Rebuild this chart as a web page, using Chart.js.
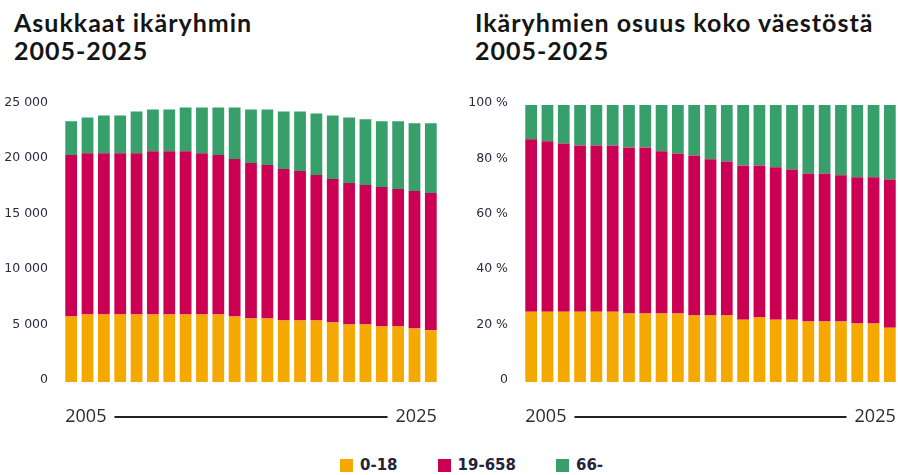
<!DOCTYPE html>
<html lang="fi">
<head>
    <meta charset="UTF-8">
    <title>Asukkaat ikäryhmin 2005-2025</title>
    <script src="https://cdn.jsdelivr.net/npm/chart.js"></script>
    <style>
        body {
            margin: 0;
            width: 898px;
            height: 475px;
            background: #fff;
            position: relative;
            overflow: hidden;
            font-family: Lato, sans-serif;
        }

        .title {
            position: absolute;
            top: 8px;
            font-weight: bold;
            font-size: 25px;
            line-height: 28px;
            letter-spacing: 1px;
            color: #151515;
            white-space: nowrap;
        }

        .chart-box {
            position: absolute;
            top: 90px;
            height: 355px;
        }

        .legend {
            position: absolute;
            left: 340px;
            top: 456px;
            display: flex;
            gap: 40px;
            font-family: "DejaVu Sans", sans-serif;
            font-weight: bold;
            font-size: 15px;
            color: #23233a;
        }

        .legend span {
            display: flex;
            align-items: center;
        }

        .legend i {
            display: inline-block;
            width: 13px;
            height: 13px;
            margin-right: 7px;
        }
    </style>
</head>
<body>
<div class="title" style="left:14px">Asukkaat ikäryhmin<br>2005-2025</div>
<div class="title" style="left:475px">Ikäryhmien osuus koko väestöstä<br>2005-2025</div>

<div class="chart-box" style="left:0;width:450px"><canvas id="countChart"></canvas></div>
<div class="chart-box" style="left:450px;width:448px"><canvas id="shareChart"></canvas></div>

<div class="legend" id="legend"></div>

<script>
    // 23 bars per chart, only the end years are labelled
    const bars = ['1', '2', '3', '4', '5', '6', '7', '8', '9', '10', '11', '12',
        '13', '14', '15', '16', '17', '18', '19', '20', '21', '22', '23'];
    const edgeLabels = ['2005', '2025'];
    const groups = ['0-18', '19-658', '66-'];
    const colors = ['#F5A800', '#CC0052', '#37A06A'];

    // residents by age group
    const young = [5910, 6090, 6090, 6090, 6090, 6090, 6090, 6090, 6090, 6090, 5910, 5730,
        5730, 5550, 5550, 5550, 5370, 5190, 5190, 5010, 5010, 4830, 4660];
    const working = [14530, 14520, 14520, 14520, 14520, 14700, 14700, 14700, 14520, 14350, 14170, 13990,
        13810, 13630, 13450, 13100, 12920, 12740, 12560, 12560, 12380, 12380, 12370];
    const elderly = [3050, 3220, 3400, 3400, 3760, 3760, 3760, 3940, 4120, 4300, 4650, 4830,
        5010, 5190, 5370, 5550, 5730, 5910, 5910, 5910, 6090, 6090, 6270];

    // share of population (%)
    const youngPct = [25.4, 25.4, 25.4, 25.4, 25.4, 25.4, 24.7, 24.7, 24.7, 24.7, 24.0, 24.0,
        24.0, 22.5, 23.3, 22.5, 22.5, 21.8, 21.8, 21.8, 21.1, 21.1, 19.6];
    const workingPct = [62.2, 61.5, 60.7, 60.0, 60.0, 60.0, 60.0, 60.0, 58.6, 57.8, 57.8, 56.4,
        55.6, 55.7, 54.9, 55.0, 54.2, 53.5, 53.5, 52.8, 52.8, 52.8, 53.5];
    const elderlyPct = [12.4, 13.1, 13.9, 14.6, 14.6, 14.6, 15.3, 15.3, 16.7, 17.5, 18.2, 19.6,
        20.4, 21.8, 21.8, 22.5, 23.3, 24.7, 24.7, 25.4, 26.1, 26.1, 26.9];

    const countTicks = [0, 5000, 10000, 15000, 20000, 25000];
    const shareTicks = [0, 20, 40, 60, 80, 100];

    const tickColor = '#2b2b40';

    // draws "2005 ——— 2025" under the bars
    const yearLine = {
        id: 'yearLine',
        afterDraw(chart) {
            const meta = chart.getDatasetMeta(0);
            const first = meta.data[0];
            const last = meta.data[meta.data.length - 1];
            const x0 = first.x - first.width / 2;
            const x1 = last.x + last.width / 2;
            const y = chart.chartArea.bottom + 35;
            const ctx = chart.ctx;
            ctx.save();
            ctx.font = '500 18px "Open Sans"';
            ctx.fillStyle = '#2a2a35';
            ctx.textBaseline = 'middle';
            ctx.textAlign = 'left';
            ctx.fillText(edgeLabels[0], x0, y);
            const w0 = ctx.measureText(edgeLabels[0]).width;
            ctx.textAlign = 'right';
            ctx.fillText(edgeLabels[1], x1, y);
            const w1 = ctx.measureText(edgeLabels[1]).width;
            ctx.strokeStyle = '#222';
            ctx.lineWidth = 2;
            ctx.beginPath();
            ctx.moveTo(x0 + w0 + 8, y);
            ctx.lineTo(x1 - w1 - 8, y);
            ctx.stroke();
            ctx.restore();
        }
    };

    function makeChart(id, series, yMax, ticks, axisWidth, padding, fmt) {
        return new Chart(document.getElementById(id), {
            type: 'bar',
            data: {
                labels: bars,
                datasets: series.map((d, i) => ({
                    label: groups[i],
                    data: d,
                    backgroundColor: colors[i],
                    barPercentage: 0.72,
                    categoryPercentage: 1
                }))
            },
            options: {
                responsive: true,
                maintainAspectRatio: false,
                animation: false,
                layout: {padding: padding},
                plugins: {
                    legend: {display: false},
                    tooltip: {enabled: false}
                },
                scales: {
                    x: {
                        stacked: true,
                        display: false
                    },
                    y: {
                        stacked: true,
                        min: 0,
                        max: yMax,
                        grid: {display: false},
                        border: {display: false},
                        afterBuildTicks: scale => {
                            scale.ticks = ticks.map(v => ({value: v}));
                        },
                        afterFit: scale => {
                            scale.width = axisWidth;
                        },
                        ticks: {
                            color: tickColor,
                            padding: 7,
                            labelOffset: -2,
                            font: {family: 'DejaVu Sans', size: 12.5},
                            callback: fmt
                        }
                    }
                }
            },
            plugins: [yearLine]
        });
    }

    makeChart('countChart', [young, working, elderly], 25000, countTicks, 63,
        {top: 12, right: 11, bottom: 63, left: 0},
        v => String(v).replace(/\B(?=(\d{3})+(?!\d))/g, ' '));

    makeChart('shareChart', [youngPct, workingPct, elderlyPct], 100, shareTicks, 73,
        {top: 15, right: 0, bottom: 63, left: 0},
        v => v === 0 ? '0' : v + ' %');

    // legend shared by both charts
    const legend = document.getElementById('legend');
    groups.forEach((g, i) => {
        const item = document.createElement('span');
        item.innerHTML = '<i style="background:' + colors[i] + '"></i>' + g;
        legend.appendChild(item);
    });
</script>
</body>
</html>
